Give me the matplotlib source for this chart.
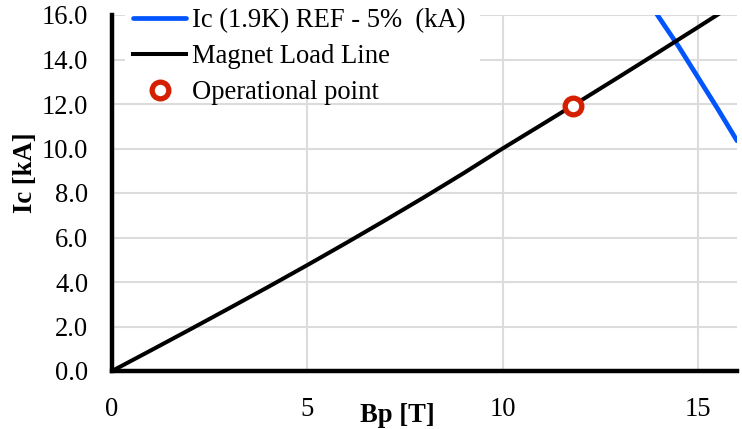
import matplotlib
matplotlib.use("Agg")
import matplotlib.pyplot as plt
from matplotlib.patches import Rectangle
import numpy as np

plt.rcParams['font.family'] = ['Liberation Serif', 'DejaVu Serif']

# Data
ic_B = [13.5, 14.0, 14.5, 15.0, 15.5, 16.0]
ic_I = [17.25, 15.9, 14.6, 13.2, 11.8, 10.35]
ll_B = [0, 1, 2, 3, 4, 5, 6, 7, 8, 9, 10, 11, 12, 13, 14, 15, 16]
ll_I = [0.0, 0.93, 1.87, 2.82, 3.78, 4.76, 5.76, 6.78, 7.82, 8.89, 10.0,
        11.07, 12.15, 13.24, 14.34, 15.45, 16.57]
op_B = [11.8]
op_I = [11.9]
x_ticks = [0, 5, 10, 15]
y_ticks = [0, 2, 4, 6, 8, 10, 12, 14, 16]

FS = 19.2
W, H = 742, 429
fig = plt.figure(figsize=(W / 100, H / 100), dpi=100)
ax = fig.add_axes([112 / W, 1 - 371 / H, (737 - 112) / W, (371 - 15) / H])

ax.plot(ic_B, ic_I, color='#0055ff', lw=3.4, solid_capstyle='round',
        label='Ic (1.9K) REF - 5%  (kA)', zorder=3)
ax.plot(ll_B, ll_I, color='black', lw=2.9, label='Magnet Load Line', zorder=3)
ax.plot(op_B, op_I, linestyle='none', marker='o', ms=12, mew=3.8,
        mec='#d42000', mfc='white', label='Operational point', zorder=4)

ax.set_xlim(0, 16)
ax.set_ylim(0, 16)
ax.set_xticks(x_ticks)
ax.set_yticks(y_ticks)
ax.set_yticklabels([f'{v:.1f}' for v in y_ticks])
ax.tick_params(axis='both', length=0, labelsize=FS)
ax.tick_params(axis='x', pad=19)
ax.tick_params(axis='y', pad=17)

ax.grid(True, color='#dcdcdc', lw=1.5, zorder=0)
ax.set_axisbelow(True)
for s in ['top', 'right']:
    ax.spines[s].set_visible(False)
for s in ['left', 'bottom']:
    ax.spines[s].set_linewidth(3.2)
    ax.spines[s].set_color('black')
    ax.spines[s].set_zorder(5)

ax.set_xlabel('Bp [T]', fontsize=FS, fontweight='bold')
ax.xaxis.set_label_coords((397 - 112) / 625, -(403 - 371) / 356)
ax.set_ylabel('Ic [kA]', fontsize=FS, fontweight='bold')
ax.yaxis.set_label_coords((38 - 112) / 625, (371 - 173) / 356)

# white legend background box (covers gridlines behind legend)
bg = Rectangle((125 / W, 1 - 98 / H), (480 - 125) / W, 98 / H,
               transform=fig.transFigure, facecolor='white', edgecolor='none',
               zorder=1, clip_on=False)
ax.add_patch(bg)

leg = ax.legend(loc='upper left', bbox_to_anchor=(129 / W, 1 - 4 / H), bbox_transform=fig.transFigure,
                fontsize=FS, frameon=False, borderpad=0.15,
                handlelength=2.0, handletextpad=0.2, labelspacing=0.42,
                borderaxespad=0)
leg.set_zorder(6)

fig.savefig('out.png', dpi=100)
